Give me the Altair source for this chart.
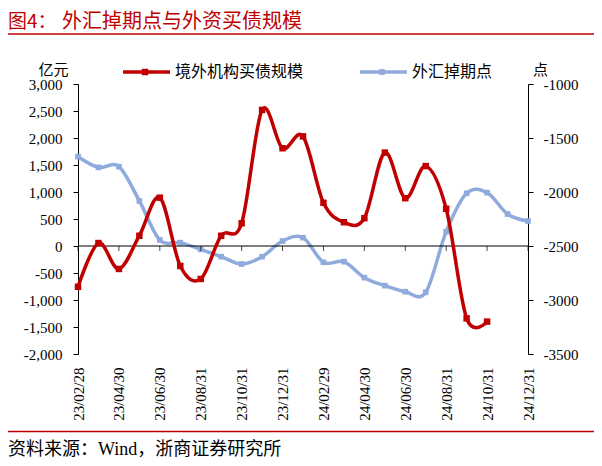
import altair as alt
import pandas as pd

# ---------------- data ----------------
dates = ["23/02/28", "23/03/31", "23/04/30", "23/05/31", "23/06/30", "23/07/31",
         "23/08/31", "23/09/30", "23/10/31", "23/11/30", "23/12/31", "24/01/31",
         "24/02/29", "24/03/31", "24/04/30", "24/05/31", "24/06/30", "24/07/31",
         "24/08/31", "24/09/30", "24/10/31", "24/11/30", "24/12/31"]
label_dates = dates[::2]

series_names = ["境外机构买债规模", "外汇掉期点"]

# 境外机构买债规模 (亿元), left axis, 23/02 .. 24/10
bond_flow = [-755, 55, -425, 190, 895, -370, -610, 190, 420, 2520, 1810, 2030,
             800, 440, 515, 1730, 885, 1480, 690, -1340, -1400]
# 外汇掉期点 (点), right axis, 23/02 .. 24/12
swap_points = [-1673, -1772, -1765, -2083, -2444, -2469, -2531, -2599, -2667, -2599,
               -2454, -2423, -2651, -2645, -2793, -2867, -2923, -2929, -2367, -2012,
               -2006, -2204, -2269]

left_ticks = list(range(-2000, 3001, 500))
right_ticks = list(range(-3500, -999, 500))

# ---------------- style ----------------
RED = "#C00000"
BLUE = "#8FAADC"
SERIF = "Liberation Serif"
CJK = "Noto Sans CJK SC"
MIX = "Liberation Serif, Noto Sans CJK SC"

red_df = pd.DataFrame({"date": dates[:len(bond_flow)], "value": bond_flow})
blue_df = pd.DataFrame({"date": dates, "value": swap_points})
zero_df = pd.DataFrame({"value": [0]})
tick_df = pd.DataFrame({"date": label_dates, "value": [0] * len(label_dates)})

x_enc = alt.X(
    "date:O",
    sort=dates,
    scale=alt.Scale(type="point", domain=dates, padding=0),
    axis=alt.Axis(values=label_dates, labelAngle=270, domain=False, ticks=False,
                  tickSize=0, labelPadding=13, labelFont=SERIF, labelFontSize=15,
                  labelColor="black", title=None, grid=False),
)

y_left = alt.Y(
    "value:Q",
    scale=alt.Scale(domain=[left_ticks[0], left_ticks[-1]], nice=False, zero=False),
    axis=alt.Axis(orient="left", values=left_ticks, format=",d",
                  labelExpr="replace(datum.label, '\u2212', '-')", tickSize=5,
                  labelPadding=11, labelFont=SERIF, labelFontSize=15,
                  labelColor="black", domainColor="black", tickColor="black",
                  grid=False, title="亿元", titleAngle=0, titleX=-25, titleY=-15,
                  titleAlign="center", titleBaseline="middle", titleFont=CJK,
                  titleFontSize=15, titleFontWeight="normal", titleColor="black"),
)

y_right = alt.Y(
    "value:Q",
    scale=alt.Scale(domain=[right_ticks[0], right_ticks[-1]], nice=False, zero=False),
    axis=alt.Axis(orient="right", values=right_ticks, format="d",
                  labelExpr="replace(datum.label, '\u2212', '-')", tickSize=5,
                  labelPadding=10, labelFont=SERIF, labelFontSize=15,
                  labelColor="black", domainColor="black", tickColor="black",
                  grid=False, title="点", titleAngle=0, titleX=12, titleY=-15,
                  titleAlign="center", titleBaseline="middle", titleFont=CJK,
                  titleFontSize=15, titleFontWeight="normal", titleColor="black"),
)

# left group
zero_line = alt.Chart(zero_df).mark_rule(color="black", strokeWidth=1).encode(y=y_left)
zero_ticks = alt.Chart(tick_df).mark_tick(orient="vertical", size=5, thickness=1,
                                          color="black", yOffset=2.5).encode(x=x_enc, y=y_left)
red_line = alt.Chart(red_df).mark_line(color=RED, strokeWidth=3.5,
                                       interpolate="cardinal").encode(x=x_enc, y=y_left)
red_pts = alt.Chart(red_df).mark_square(color=RED, size=42, opacity=1).encode(x=x_enc, y=y_left)
left_group = alt.layer(zero_line, zero_ticks, red_line, red_pts)

# right group
blue_line = alt.Chart(blue_df).mark_line(color=BLUE, strokeWidth=3.5,
                                         interpolate="cardinal").encode(x=x_enc, y=y_right)
blue_pts = alt.Chart(blue_df).mark_square(color=BLUE, size=32, opacity=1).encode(x=x_enc, y=y_right)
right_group = alt.layer(blue_line, blue_pts)

one = pd.DataFrame({"t": [""]})


def text(s, x, y, size, color="black", font=CJK, align="left"):
    return alt.Chart(pd.DataFrame({"t": [s]})).mark_text(
        align=align, baseline="middle", fontSize=size, font=font, color=color
    ).encode(text="t:N", x=alt.value(x), y=alt.value(y))


def hrule(x1, x2, y, color, width):
    return alt.Chart(one).mark_rule(color=color, strokeWidth=width).encode(
        x=alt.value(x1), x2=alt.value(x2), y=alt.value(y))


def legend_item(name, color, x, msize):
    line = hrule(x, x + 47, -12, color, 3.5)
    sq = alt.Chart(one).mark_square(color=color, size=msize, opacity=1).encode(
        x=alt.value(x + 22), y=alt.value(-12))
    lab = text(name, x + 52, -12, 16)
    return [line, sq, lab]


deco = [
    text("图4：", -70, -62, 19, RED),
    text("外汇掉期点与外资买债规模", -16, -62, 20, RED),
    hrule(-70, 516, -50, RED, 1.5),
    hrule(-70, 516, 347.5, RED, 1.5),
    text("资料来源：Wind，浙商证券研究所", -70, 366, 18, "black", MIX),
]
deco += legend_item(series_names[0], RED, 45, 42)
deco += legend_item(series_names[1], BLUE, 282, 32)

chart = alt.layer(right_group, left_group, *deco).resolve_scale(
    y="independent"
).properties(
    width=450, height=270,
    padding={"left": 70, "top": 76, "right": 66, "bottom": 110},
    autosize=alt.AutoSizeParams(type="none"),
    background="white",
).configure_view(stroke=None)

chart.save("out.html", embed_options={"renderer": "svg", "actions": False})
